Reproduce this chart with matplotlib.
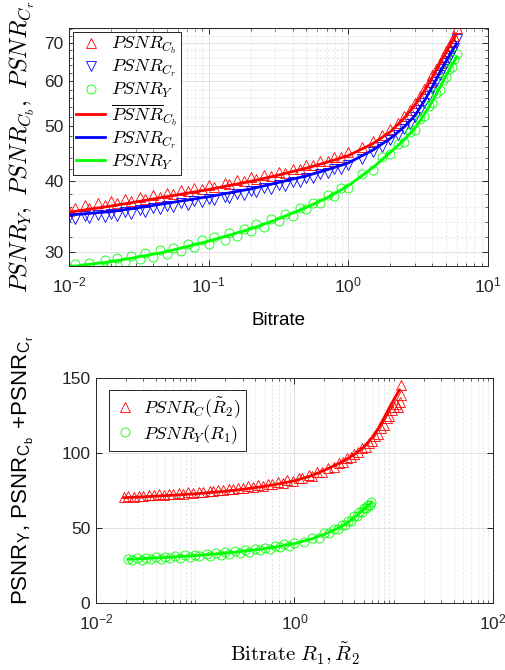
import numpy as np
import matplotlib
matplotlib.use("Agg")
import matplotlib.pyplot as plt
from matplotlib.ticker import FixedLocator, NullFormatter, FormatStrFormatter, LogLocator

plt.rcParams["font.family"] = ["Liberation Sans", "DejaVu Sans"]
plt.rcParams["mathtext.fontset"] = "cm"
plt.rcParams["axes.edgecolor"] = "#262626"
plt.rcParams["xtick.color"] = "#262626"
plt.rcParams["ytick.color"] = "#262626"

RED, BLUE, GREEN = "#ff0000", "#0000ff", "#00ff00"

# ---------------- top panel: per-component PSNR vs bitrate ----------------
rate_pts = [0.010, 0.011, 0.013, 0.014, 0.016, 0.018, 0.020, 0.022, 0.025, 0.028,
            0.032, 0.035, 0.040, 0.045, 0.050, 0.056, 0.063, 0.071, 0.079, 0.089,
            0.10, 0.11, 0.13, 0.14, 0.16, 0.18, 0.20, 0.22, 0.25, 0.28,
            0.32, 0.35, 0.40, 0.45, 0.50, 0.56, 0.63, 0.71, 0.79, 0.89,
            1.00, 1.25, 1.50, 1.75, 2.00, 2.25, 2.50, 2.75, 3.00, 3.25,
            3.50, 3.75, 4.00, 4.25, 4.50, 4.75, 5.00, 5.25, 5.50, 5.75, 5.95]
psnr_cb_pts = [35.5, 35.9, 36.3, 35.9, 36.6, 36.4, 36.9, 36.6, 37.2, 36.9,
               37.5, 37.2, 37.8, 37.6, 38.2, 38.0, 38.6, 38.4, 39.0, 38.8,
               39.4, 39.1, 39.8, 39.5, 40.2, 40.0, 40.7, 40.4, 41.1, 40.9,
               41.6, 41.4, 42.1, 42.0, 42.8, 42.7, 43.5, 43.4, 44.2, 44.2,
               45.0, 46.0, 47.1, 48.2, 49.4, 50.6, 52.1, 53.4, 55.0, 56.5,
               58.2, 59.7, 61.5, 63.0, 64.7, 66.2, 67.8, 69.2, 70.6, 71.9, 74.5]
psnr_cr_pts = [34.6, 34.4, 34.8, 34.5, 34.9, 34.6, 35.0, 34.8, 35.3, 35.1,
               35.6, 35.4, 35.9, 35.7, 36.2, 36.1, 36.6, 36.4, 36.9, 36.8,
               37.2, 37.1, 37.6, 37.4, 38.0, 37.9, 38.4, 38.3, 38.9, 38.8,
               39.4, 39.3, 39.9, 39.9, 40.5, 40.5, 41.2, 41.3, 42.0, 42.1,
               42.7, 43.8, 45.0, 46.0, 47.2, 48.2, 49.4, 50.5, 51.8, 53.3,
               55.0, 56.5, 58.3, 59.8, 61.6, 63.0, 64.7, 65.9, 67.4, 68.5, 71.2]
psnr_y_pts = [28.2, 28.6, 28.2, 28.8, 28.4, 29.1, 28.6, 29.3, 28.9, 29.6,
              29.2, 29.9, 29.5, 30.3, 29.8, 30.6, 30.2, 31.1, 30.7, 31.5,
              31.1, 31.9, 31.6, 32.4, 32.1, 33.0, 32.7, 33.6, 33.3, 34.3,
              34.1, 35.0, 34.8, 35.9, 35.7, 36.7, 36.6, 37.8, 37.7, 39.0,
              39.0, 41.2, 41.9, 44.1, 44.6, 46.6, 47.0, 48.8, 49.2, 51.4,
              52.1, 54.3, 54.9, 57.2, 58.0, 60.3, 60.9, 63.1, 63.6, 65.6, 67.0]

rate_mean = [0.01, 0.02, 0.03, 0.05, 0.1, 0.2, 0.3, 0.5, 0.7, 1.0,
             1.5, 2.0, 2.5, 3.0, 3.5, 4.0, 4.5, 5.0, 5.5, 5.95]
psnr_cb_mean = [35.3, 36.2, 36.8, 37.6, 38.7, 40.0, 40.9, 42.2, 43.2, 44.4,
                46.6, 48.9, 51.6, 54.5, 57.7, 61.0, 64.3, 67.4, 70.2, 72.6]
psnr_cr_mean = [34.9, 35.4, 35.9, 36.6, 37.6, 38.8, 39.7, 40.9, 41.9, 43.1,
                45.4, 47.6, 49.8, 52.2, 55.4, 58.7, 62.0, 65.0, 67.7, 69.8]
psnr_y_mean = [28.3, 28.9, 29.4, 30.1, 31.4, 33.0, 34.2, 36.0, 37.4, 39.3,
               42.3, 45.0, 47.3, 49.6, 52.5, 55.3, 58.4, 61.3, 64.0, 66.1]

# ---------------- bottom panel: luma vs summed chroma ----------------
r2_pts = [0.019, 0.021, 0.024, 0.027, 0.030, 0.034, 0.038, 0.043, 0.048, 0.054,
          0.060, 0.068, 0.076, 0.085, 0.096, 0.11, 0.12, 0.14, 0.15, 0.17,
          0.19, 0.22, 0.24, 0.27, 0.30, 0.34, 0.38, 0.43, 0.48, 0.54,
          0.60, 0.68, 0.76, 0.85, 0.96, 1.1, 1.2, 1.4, 1.5, 1.7,
          1.9, 2.2, 2.5, 2.8, 3.1, 3.4, 3.7, 4.0, 4.4, 4.8,
          5.2, 5.6, 6.0, 6.5, 7.0, 7.5, 8.0, 8.5, 9.0, 9.5,
          10.0, 10.5, 11.0, 11.6, 11.9, 11.7]
psnr_c_pts = [70.6, 71.3, 71.0, 71.6, 71.3, 72.0, 71.7, 72.4, 72.1, 72.8,
              72.5, 73.3, 73.0, 73.8, 73.5, 74.3, 74.0, 74.9, 74.6, 75.5,
              75.2, 76.2, 75.9, 76.9, 76.6, 77.7, 77.4, 78.6, 78.3, 79.6,
              79.2, 80.6, 80.3, 81.7, 81.5, 83.3, 83.2, 85.2, 85.0, 87.3,
              87.4, 90.3, 91.0, 93.6, 94.3, 96.6, 97.2, 99.6, 100.4, 103.3,
              104.0, 107.0, 107.8, 111.5, 112.6, 117.0, 118.5, 123.5, 125.0, 129.0,
              131.0, 133.0, 130.5, 134.0, 138.5, 145.3]
r1_pts = [0.021, 0.023, 0.026, 0.029, 0.032, 0.036, 0.040, 0.045, 0.050, 0.056,
          0.063, 0.071, 0.079, 0.089, 0.10, 0.11, 0.13, 0.14, 0.16, 0.18,
          0.20, 0.22, 0.25, 0.28, 0.32, 0.35, 0.40, 0.45, 0.50, 0.56,
          0.63, 0.71, 0.79, 0.89, 1.0, 1.25, 1.5, 1.75, 2.0, 2.25,
          2.5, 2.75, 3.0, 3.25, 3.5, 3.75, 4.0, 4.25, 4.5, 4.75,
          5.0, 5.25, 5.5, 5.75, 5.95]
psnr_y1_pts = [29.4, 28.6, 30.1, 28.9, 30.3, 29.1, 30.6, 29.4, 31.0, 29.8,
               31.4, 30.2, 31.8, 30.6, 32.3, 31.1, 32.8, 31.6, 33.3, 32.2,
               33.9, 32.7, 34.5, 33.4, 35.3, 34.2, 36.0, 35.1, 36.9, 35.9,
               37.9, 37.1, 39.1, 38.3, 40.3, 40.5, 43.5, 43.6, 46.5, 46.5,
               49.3, 49.3, 52.0, 51.9, 54.7, 54.8, 57.7, 57.8, 60.7, 60.6,
               63.3, 63.1, 65.5, 65.2, 67.5]

r2_mean = [0.019, 0.03, 0.05, 0.1, 0.2, 0.3, 0.5, 0.7, 1.0, 1.5,
           2.0, 3.0, 4.0, 5.0, 6.0, 7.0, 8.0, 9.0, 10.0, 11.4]
psnr_c_mean = [70.2, 70.8, 71.6, 72.8, 74.5, 75.8, 77.8, 79.5, 81.5, 85.0,
               88.5, 94.0, 99.0, 104.0, 110.0, 116.5, 123.5, 130.0, 135.5, 142.0]
r1_mean = [0.021, 0.03, 0.05, 0.1, 0.2, 0.3, 0.5, 0.7, 1.0, 1.5,
           2.0, 2.5, 3.0, 3.5, 4.0, 4.5, 5.0, 5.5, 5.9]
psnr_y1_mean = [29.2, 29.6, 30.3, 31.6, 33.2, 34.4, 36.2, 37.7, 39.6, 42.8,
                45.8, 48.6, 51.3, 54.0, 57.0, 60.0, 62.6, 65.0, 66.5]

fig = plt.figure(figsize=(5.06, 6.70), dpi=100)
ax1 = fig.add_axes([69 / 506, 1 - 266 / 670, 419 / 506, 238 / 670])
ax2 = fig.add_axes([96 / 506, 1 - 603 / 670, 397 / 506, 225 / 670])

mk = dict(linestyle="none", markerfacecolor="none", markersize=6.5, markeredgewidth=0.6)


def matlab_style(ax):
    ax.tick_params(which="both", direction="in", top=True, right=True, labelsize=12.5, pad=7)
    ax.tick_params(which="major", length=4, width=0.7)
    ax.tick_params(which="minor", length=2, width=0.5)
    ax.grid(True, which="major", color="#dcdcdc", linewidth=0.6)
    ax.grid(True, which="minor", color="#e4e4e4", linewidth=0.6, linestyle=(0, (3, 2)))
    for s in ax.spines.values():
        s.set_linewidth(0.7)
    ax.set_axisbelow(True)


# top
ax1.plot(rate_pts, psnr_cb_pts, "^", color=RED, label=r"$PSNR_{C_b}$", **mk)
ax1.plot(rate_pts, psnr_cr_pts, "v", color=BLUE, label=r"$PSNR_{C_r}$", **mk)
ax1.plot(rate_pts, psnr_y_pts, "o", color=GREEN, label=r"$PSNR_Y$", **mk)
ax1.plot(rate_mean, psnr_cb_mean, color=RED, lw=2, label=r"$\overline{PSNR}_{C_b}$")
ax1.plot(rate_mean, psnr_cr_mean, color=BLUE, lw=2, label=r"$PSNR_{C_r}$")
ax1.plot(rate_mean, psnr_y_mean, color=GREEN, lw=2, label=r"$PSNR_Y$")
ax1.set_xscale("log")
ax1.set_yscale("log")
ax1.set_xlim(1e-2, 1e1)
ax1.set_ylim(28.4, 74.4)
ax1.yaxis.set_major_locator(FixedLocator([30, 40, 50, 60, 70]))
ax1.yaxis.set_major_formatter(FormatStrFormatter("%d"))
ax1.yaxis.set_minor_locator(FixedLocator([v for v in range(28, 75, 2) if v % 10]))
ax1.yaxis.set_minor_formatter(NullFormatter())
ax1.xaxis.set_minor_locator(LogLocator(base=10, subs=np.arange(2, 10), numticks=20))
matlab_style(ax1)
ax1.tick_params(axis="y", pad=4)
ax1.set_xlabel("Bitrate", fontsize=13.5, labelpad=12)
ax1.set_ylabel(r"$PSNR_Y,\ PSNR_{C_b},\ PSNR_{C_r}$", fontsize=17.5)
ax1.yaxis.set_label_coords(-0.076, 0.5)
leg1 = ax1.legend(loc="upper left", fontsize=13, borderaxespad=0.2, handlelength=1.6,
                  handletextpad=0.3, labelspacing=0.1, fancybox=False,
                  edgecolor="#262626", framealpha=1, borderpad=0.2)
leg1.get_frame().set_linewidth(0.7)

# bottom
ax2.plot(r2_pts, psnr_c_pts, "^", color=RED, label=r"$PSNR_C(\tilde{R}_2)$", **mk)
ax2.plot(r1_pts, psnr_y1_pts, "o", color=GREEN, label=r"$PSNR_Y(R_1)$", **mk)
ax2.plot(r2_mean, psnr_c_mean, color=RED, lw=2)
ax2.plot(r1_mean, psnr_y1_mean, color=GREEN, lw=2)
ax2.set_xscale("log")
ax2.set_xlim(1e-2, 1e2)
ax2.set_ylim(0, 150)
ax2.set_xticks([1e-2, 1e0, 1e2])
ax2.xaxis.set_minor_locator(LogLocator(base=10, subs=np.arange(1, 10), numticks=20))
ax2.xaxis.set_minor_formatter(NullFormatter())
ax2.set_yticks([0, 50, 100, 150])
matlab_style(ax2)
ax2.tick_params(axis="y", pad=4)
ax2.set_xlabel(r"$\mathrm{Bitrate}\ R_1, \tilde{R}_2$", fontsize=15, labelpad=6)
ax2.set_ylabel(r"PSNR$_\mathregular{Y}$, PSNR$_{\mathregular{C}_\mathregular{b}}$ +PSNR$_{\mathregular{C}_\mathregular{r}}$",
               fontsize=16)
ax2.yaxis.set_label_coords(-0.15, 0.59)
leg2 = ax2.legend(loc="upper left", bbox_to_anchor=(0.033, 0.947), fontsize=13,
                  borderaxespad=0, handlelength=1.2, handletextpad=0.4, labelspacing=0.15,
                  fancybox=False, edgecolor="#262626", framealpha=1, borderpad=0.3)
leg2.get_frame().set_linewidth(0.7)

fig.savefig("out.png", dpi=100)
